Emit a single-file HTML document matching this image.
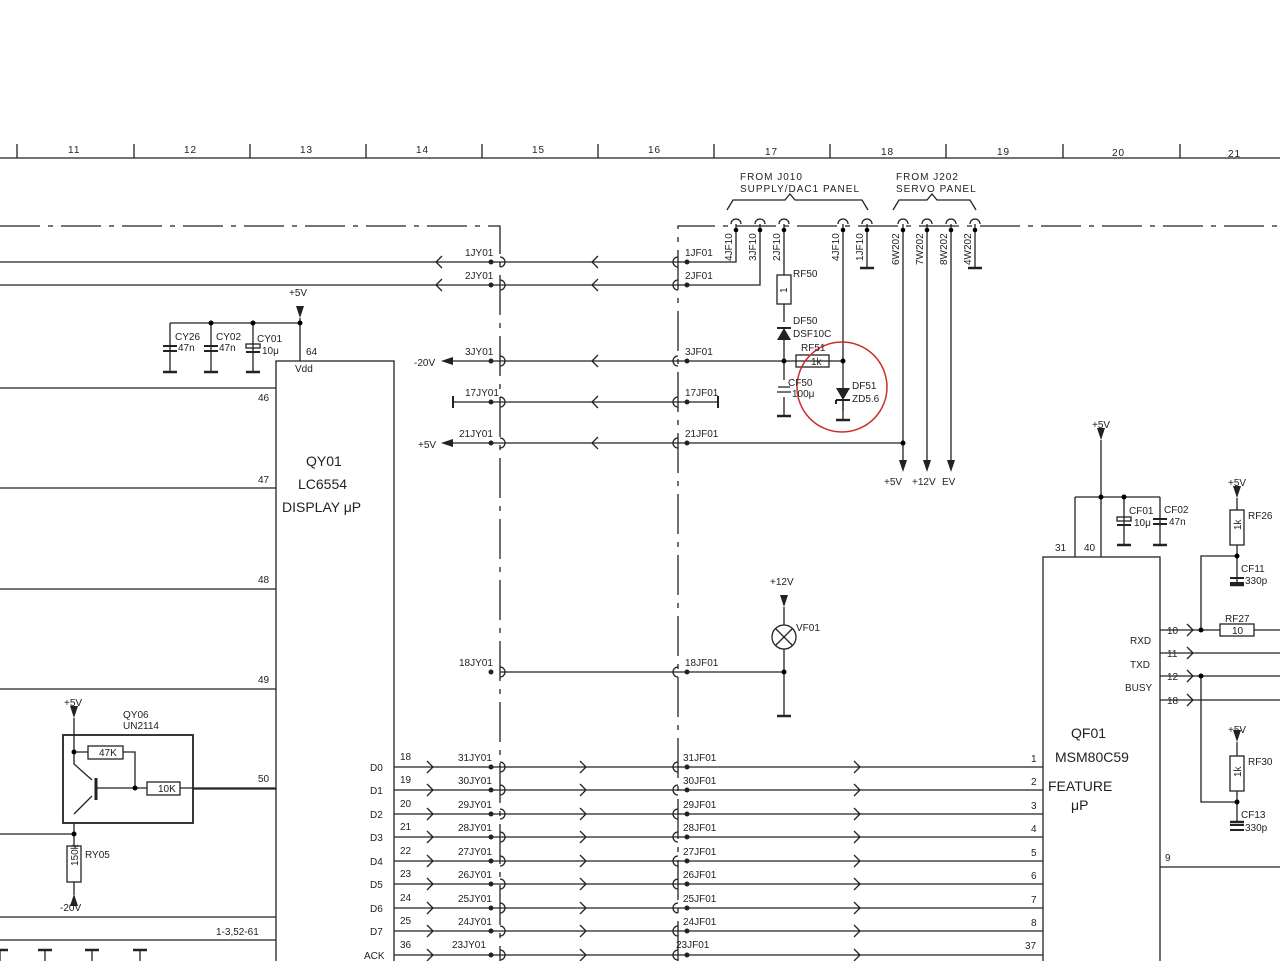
<!DOCTYPE html>
<html><head><meta charset="utf-8"><style>
html,body{margin:0;padding:0;background:#fff}
svg{display:block}
text{font-family:"Liberation Sans",sans-serif;fill:#222}
</style></head><body>
<svg width="1280" height="961" viewBox="0 0 1280 961" xmlns="http://www.w3.org/2000/svg">
<defs>
<g id="lt"><path d="M6,-6 L0,0 L6,6" fill="none" stroke="#222" stroke-width="1.3"/></g>
<g id="gt"><path d="M-6,-6 L0,0 L-6,6" fill="none" stroke="#222" stroke-width="1.3"/></g>
<g id="jy"><circle cx="-9" cy="0" r="2.5" fill="#222"/><path d="M0,-5 A5,5 0 0 1 0,5" fill="none" stroke="#222" stroke-width="1.3"/></g>
<g id="jf"><circle cx="9" cy="0" r="2.5" fill="#222"/><path d="M0,-5 A5,5 0 0 0 0,5" fill="none" stroke="#222" stroke-width="1.3"/></g>
<g id="gnd"><line x1="-7" y1="0" x2="7" y2="0" stroke="#222" stroke-width="2.5"/></g>
<g id="dn"><path d="M-4,-12 L4,-12 L0,0 Z" fill="#222"/></g>
<g id="hook"><path d="M-5,0 A5,5 0 0 1 5,0" fill="none" stroke="#222" stroke-width="1.3"/></g>
<g id="cap"><line x1="-7" y1="-2" x2="7" y2="-2" stroke="#222" stroke-width="2"/><line x1="-7" y1="3" x2="7" y2="3" stroke="#222" stroke-width="2"/></g>
</defs>
<g stroke="#222" stroke-width="1.3" fill="none">
<line x1="0" y1="158" x2="1280" y2="158"/>
<path d="M17,144V158M134,144V158M250,144V158M366,144V158M482,144V158M598,144V158M714,144V158M830,144V158M946,144V158M1063,144V158M1180,144V158"/>
<path d="M0,226 H500 V961" stroke-dasharray="40,8,5,8"/>
<path d="M678,961 V226 H1280" stroke-dasharray="40,8,5,8"/>
<rect x="276" y="361" width="118" height="620"/>
<path d="M300,361 V318 M170,323 H300 M170,323 V372 M211,323 V372 M253,323 V372"/>
<path d="M0,388H276 M0,488H276 M0,589H276 M0,689H276 M193,789H276 M0,917H276 M0,940H276"/>
<path d="M0,950V961 M45,950V961 M92,950V961 M140,950V961" />
<path d="M0,262H736V224 M0,285H760V224 M453,361H843 M453,402H718 M453,443H903 M500,672H784"/>
<path d="M453,396V408 M718,396V408" stroke-width="2"/>
<path d="M784,224V275 M784,304V322 M784,340V380 M784,397V416 M843,224V411 M867,224V236 M975,224V236 M903,224V460 M927,224V460 M951,224V460"/>
<rect x="777" y="275" width="14" height="29"/>
<rect x="796" y="355" width="33" height="12"/>
<path d="M777,392H791 M778,387H790" />
<path d="M394,767H1043 M394,790H1043 M394,814H1043 M394,837H1043 M394,861H1043 M394,884H1043 M394,908H1043 M394,931H1043 M394,955H1043"/>
<path d="M784,607V625 M784,649V716"/>
<circle cx="784" cy="637" r="12"/>
<path d="M776,629L792,645M792,629L776,645"/>
<rect x="63" y="735" width="130" height="88" stroke-width="1.8"/>
<path d="M74,718V752 M74,752H88 M123,752H135V788 M74,752V764 L92,780 M96,788H147 M180,788H276 M74,823V846 M74,882V895 M0,834H74 M74,814L92,796"/>
<path d="M96,778V800" stroke-width="3"/>
<rect x="88" y="746" width="35" height="13"/>
<rect x="147" y="782" width="33" height="13"/>
<rect x="67" y="846" width="14" height="36"/>
<rect x="1043" y="557" width="117" height="420"/>
<path d="M1101,440V557 M1075,497H1160 M1075,497V557 M1124,497V545 M1160,497V545"/>
<path d="M1160,630H1220 M1254,630H1280 M1160,653H1280 M1160,676H1280 M1160,700H1280 M1160,867H1280"/>
<path d="M1237,498V510 M1237,545V585 M1201,630V556H1237 M1201,676V802H1237 M1237,742V756 M1237,791V822"/>
<rect x="1230" y="510" width="14" height="35"/>
<rect x="1220" y="624" width="34" height="12"/>
<rect x="1230" y="756" width="14" height="35"/>
<path d="M727,210 L733,200 H785 L790,194 L795,200 H862 L868,210"/>
<path d="M893,210 L899,200 H927 L932,194 L937,200 H970 L976,210"/>
</g>
<g>
<use href="#lt" x="436" y="262"/><use href="#lt" x="592" y="262"/>
<use href="#lt" x="436" y="285"/><use href="#lt" x="592" y="285"/>
<use href="#lt" x="592" y="361"/><use href="#lt" x="592" y="402"/><use href="#lt" x="592" y="443"/>
<path d="M441,361 L453,357 L453,365Z M441,443 L453,439 L453,447Z" fill="#222"/>
<use href="#jy" x="500" y="262"/><use href="#jy" x="500" y="285"/><use href="#jy" x="500" y="361"/><use href="#jy" x="500" y="402"/><use href="#jy" x="500" y="443"/><use href="#jy" x="500" y="672"/>
<use href="#jf" x="678" y="262"/><use href="#jf" x="678" y="285"/><use href="#jf" x="678" y="361"/><use href="#jf" x="678" y="402"/><use href="#jf" x="678" y="443"/><use href="#jf" x="678" y="672"/>
<use href="#jy" x="500" y="767"/><use href="#jy" x="500" y="790"/><use href="#jy" x="500" y="814"/><use href="#jy" x="500" y="837"/><use href="#jy" x="500" y="861"/><use href="#jy" x="500" y="884"/><use href="#jy" x="500" y="908"/><use href="#jy" x="500" y="931"/><use href="#jy" x="500" y="955"/>
<use href="#jf" x="678" y="767"/><use href="#jf" x="678" y="790"/><use href="#jf" x="678" y="814"/><use href="#jf" x="678" y="837"/><use href="#jf" x="678" y="861"/><use href="#jf" x="678" y="884"/><use href="#jf" x="678" y="908"/><use href="#jf" x="678" y="931"/><use href="#jf" x="678" y="955"/>
<g id="row"><use href="#gt" x="433" y="767"/><use href="#gt" x="586" y="767"/><use href="#gt" x="860" y="767"/></g>
<use href="#row" y="23"/><use href="#row" y="47"/><use href="#row" y="70"/><use href="#row" y="94"/><use href="#row" y="117"/><use href="#row" y="141"/><use href="#row" y="164"/><use href="#row" y="188"/>
<use href="#hook" x="736" y="224"/><use href="#hook" x="760" y="224"/><use href="#hook" x="784" y="224"/><use href="#hook" x="843" y="224"/><use href="#hook" x="867" y="224"/>
<use href="#hook" x="903" y="224"/><use href="#hook" x="927" y="224"/><use href="#hook" x="951" y="224"/><use href="#hook" x="975" y="224"/>
<circle cx="736" cy="230" r="2.3"/><circle cx="760" cy="230" r="2.3"/><circle cx="784" cy="230" r="2.3"/><circle cx="843" cy="230" r="2.3"/><circle cx="867" cy="230" r="2.3"/><circle cx="903" cy="230" r="2.3"/><circle cx="927" cy="230" r="2.3"/><circle cx="951" cy="230" r="2.3"/><circle cx="975" cy="230" r="2.3"/>
<use href="#gnd" x="867" y="268"/><use href="#gnd" x="975" y="268"/>
<line x1="867" y1="236" x2="867" y2="268" stroke="#222" stroke-width="1.3"/><line x1="975" y1="236" x2="975" y2="268" stroke="#222" stroke-width="1.3"/>
<path d="M777,340 L791,340 L784,328Z M836,388 L850,388 L843,400Z" fill="#222"/>
<path d="M777,328H791 M836,400H850 M836,400V404" stroke="#222" stroke-width="2"/>
<circle cx="784" cy="361" r="2.5"/><circle cx="843" cy="361" r="2.5"/><circle cx="903" cy="443" r="2.5"/><circle cx="784" cy="672" r="2.5"/>
<use href="#gnd" x="784" y="416"/><use href="#gnd" x="843" y="420"/><line x1="843" y1="400" x2="843" y2="420" stroke="#222" stroke-width="1.3"/>
<use href="#dn" x="903" y="472"/><use href="#dn" x="927" y="472"/><use href="#dn" x="951" y="472"/>
<use href="#dn" x="784" y="607"/><use href="#gnd" x="784" y="716"/>
<use href="#dn" x="300" y="318"/><circle cx="300" cy="323" r="2.5"/><circle cx="211" cy="323" r="2.5"/><circle cx="253" cy="323" r="2.5"/>
<use href="#cap" x="170" y="348"/><use href="#cap" x="211" y="348"/>
<rect x="246" y="344" width="14" height="4" fill="none" stroke="#222" stroke-width="1.3"/><line x1="246" y1="352" x2="260" y2="352" stroke="#222" stroke-width="2"/>
<use href="#gnd" x="170" y="372"/><use href="#gnd" x="211" y="372"/><use href="#gnd" x="253" y="372"/>
<use href="#dn" x="1101" y="440"/><circle cx="1101" cy="497" r="2.5"/><circle cx="1124" cy="497" r="2.5"/>
<rect x="1117" y="517" width="14" height="4" fill="none" stroke="#222" stroke-width="1.3"/><line x1="1117" y1="525" x2="1131" y2="525" stroke="#222" stroke-width="2"/>
<use href="#cap" x="1160" y="521"/>
<use href="#gnd" x="1124" y="545"/><use href="#gnd" x="1160" y="545"/>
<use href="#dn" x="1237" y="498"/><use href="#dn" x="1237" y="742"/>
<circle cx="1237" cy="556" r="2.5"/><circle cx="1201" cy="630" r="2.5"/><circle cx="1201" cy="676" r="2.5"/><circle cx="1237" cy="802" r="2.5"/>
<use href="#cap" x="1237" y="580"/><use href="#cap" x="1237" y="827"/>
<use href="#gnd" x="1237" y="585"/><use href="#gnd" x="1237" y="822"/>
<use href="#gt" x="1193" y="630"/><use href="#gt" x="1193" y="653"/><use href="#gt" x="1193" y="676"/><use href="#gt" x="1193" y="700"/>
<use href="#dn" x="74" y="718"/><circle cx="74" cy="752" r="2.5"/><circle cx="135" cy="788" r="2.5"/><circle cx="74" cy="834" r="2.5"/>
<path d="M74,894 L70,906 L78,906Z" fill="#222"/>
<path d="M0,950H8 M38,950H52 M85,950H99 M133,950H147" stroke="#222" stroke-width="2.5"/>
</g>
<circle cx="842" cy="387" r="45" fill="none" stroke="#c8302a" stroke-width="1.5"/>
<g font-size="10" letter-spacing="1">
<text x="68" y="153">11</text><text x="184" y="153">12</text><text x="300" y="153">13</text><text x="416" y="153">14</text><text x="532" y="153">15</text><text x="648" y="153">16</text><text x="765" y="155">17</text><text x="881" y="155">18</text><text x="997" y="155">19</text><text x="1112" y="156">20</text><text x="1228" y="157">21</text>
<text x="740" y="180">FROM J010</text><text x="740" y="192">SUPPLY/DAC1  PANEL</text>
<text x="896" y="180">FROM J202</text><text x="896" y="192">SERVO PANEL</text>
</g>
<g font-size="10">
<text x="465" y="256">1JY01</text><text x="465" y="279">2JY01</text><text x="465" y="355">3JY01</text><text x="465" y="396">17JY01</text><text x="459" y="437">21JY01</text><text x="459" y="666">18JY01</text>
<text x="685" y="256">1JF01</text><text x="685" y="279">2JF01</text><text x="685" y="355">3JF01</text><text x="685" y="396">17JF01</text><text x="685" y="437">21JF01</text><text x="685" y="666">18JF01</text>
<text x="414" y="366">-20V</text><text x="418" y="448">+5V</text>
<text x="458" y="761">31JY01</text><text x="458" y="784">30JY01</text><text x="458" y="808">29JY01</text><text x="458" y="831">28JY01</text><text x="458" y="855">27JY01</text><text x="458" y="878">26JY01</text><text x="458" y="902">25JY01</text><text x="458" y="925">24JY01</text><text x="452" y="948">23JY01</text>
<text x="683" y="761">31JF01</text><text x="683" y="784">30JF01</text><text x="683" y="808">29JF01</text><text x="683" y="831">28JF01</text><text x="683" y="855">27JF01</text><text x="683" y="878">26JF01</text><text x="683" y="902">25JF01</text><text x="683" y="925">24JF01</text><text x="676" y="948">23JF01</text>
<text x="400" y="760">18</text><text x="400" y="783">19</text><text x="400" y="807">20</text><text x="400" y="830">21</text><text x="400" y="854">22</text><text x="400" y="877">23</text><text x="400" y="901">24</text><text x="400" y="924">25</text><text x="400" y="948">36</text>
<text x="370" y="771">D0</text><text x="370" y="794">D1</text><text x="370" y="818">D2</text><text x="370" y="841">D3</text><text x="370" y="865">D4</text><text x="370" y="888">D5</text><text x="370" y="912">D6</text><text x="370" y="935">D7</text><text x="364" y="959">ACK</text>
<text x="1031" y="762">1</text><text x="1031" y="785">2</text><text x="1031" y="809">3</text><text x="1031" y="832">4</text><text x="1031" y="856">5</text><text x="1031" y="879">6</text><text x="1031" y="903">7</text><text x="1031" y="926">8</text><text x="1025" y="949">37</text>
<text x="289" y="296">+5V</text><text x="306" y="355">64</text><text x="295" y="372">Vdd</text>
<text x="175" y="340">CY26</text><text x="178" y="351">47n</text><text x="216" y="340">CY02</text><text x="219" y="351">47n</text><text x="257" y="342">CY01</text><text x="262" y="354">10μ</text>
<text x="258" y="401">46</text><text x="258" y="483">47</text><text x="258" y="583">48</text><text x="258" y="683">49</text><text x="258" y="782">50</text>
<text x="216" y="935">1-3,52-61</text>
<text x="64" y="706">+5V</text><text x="123" y="718">QY06</text><text x="123" y="729">UN2114</text>
<text x="99" y="756">47K</text><text x="158" y="792">10K</text><text x="85" y="858">RY05</text><text x="60" y="911">-20V</text>
<text x="78" y="866" transform="rotate(-90 78 866)">150k</text>
<text x="793" y="277">RF50</text><text x="787" y="293" transform="rotate(-90 787 293)">1</text>
<text x="793" y="324">DF50</text><text x="793" y="337">DSF10C</text><text x="801" y="351">RF51</text><text x="811" y="365">1k</text>
<text x="788" y="386">CF50</text><text x="792" y="397">100μ</text><text x="852" y="389">DF51</text><text x="852" y="402">ZD5.6</text>
<text x="732" y="261" transform="rotate(-90 732 261)">4JF10</text><text x="756" y="261" transform="rotate(-90 756 261)">3JF10</text><text x="780" y="261" transform="rotate(-90 780 261)">2JF10</text><text x="839" y="261" transform="rotate(-90 839 261)">4JF10</text><text x="863" y="261" transform="rotate(-90 863 261)">1JF10</text>
<text x="899" y="265" transform="rotate(-90 899 265)">6W202</text><text x="923" y="265" transform="rotate(-90 923 265)">7W202</text><text x="947" y="265" transform="rotate(-90 947 265)">8W202</text><text x="971" y="265" transform="rotate(-90 971 265)">4W202</text>
<text x="884" y="485">+5V</text><text x="912" y="485">+12V</text><text x="942" y="485">EV</text>
<text x="770" y="585">+12V</text><text x="796" y="631">VF01</text>
<text x="1092" y="428">+5V</text><text x="1055" y="551">31</text><text x="1084" y="551">40</text>
<text x="1129" y="514">CF01</text><text x="1134" y="526">10μ</text><text x="1164" y="513">CF02</text><text x="1169" y="525">47n</text>
<text x="1228" y="486">+5V</text><text x="1248" y="519">RF26</text><text x="1241" y="530" transform="rotate(-90 1241 530)">1k</text>
<text x="1241" y="572">CF11</text><text x="1245" y="584">330p</text>
<text x="1225" y="622">RF27</text><text x="1232" y="634">10</text>
<text x="1130" y="644">RXD</text><text x="1130" y="668">TXD</text><text x="1125" y="691">BUSY</text>
<text x="1167" y="634">10</text><text x="1167" y="657">11</text><text x="1167" y="680">12</text><text x="1167" y="704">18</text><text x="1165" y="861">9</text>
<text x="1228" y="733">+5V</text><text x="1248" y="765">RF30</text><text x="1241" y="777" transform="rotate(-90 1241 777)">1k</text>
<text x="1241" y="818">CF13</text><text x="1245" y="831">330p</text>
</g>
<g font-size="14">
<text x="306" y="466">QY01</text><text x="298" y="489">LC6554</text><text x="282" y="512">DISPLAY  μP</text>
<text x="1071" y="738">QF01</text><text x="1055" y="762">MSM80C59</text><text x="1048" y="791">FEATURE</text><text x="1071" y="810">μP</text>
</g>
</svg>
</body></html>
